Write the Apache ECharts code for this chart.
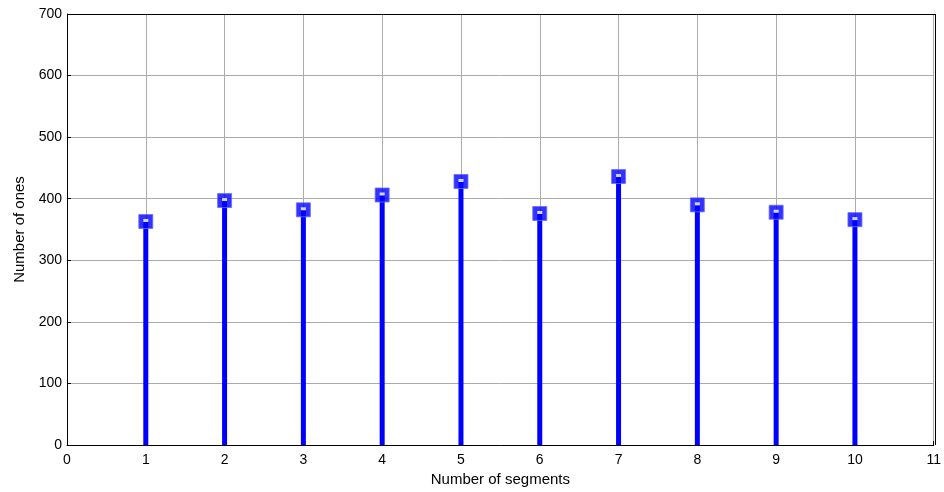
<!DOCTYPE html>
<html>
<head>
<meta charset="utf-8">
<script src="https://cdn.jsdelivr.net/npm/echarts@6/dist/echarts.min.js"></script>
<style>
html,body{margin:0;padding:0;background:#fff;}
#chart{width:944px;height:492px;}
</style>
</head>
<body>
<div id="chart"></div>
<script>
// Segment index and the count of ones found in each segment
const segments = [1, 2, 3, 4, 5, 6, 7, 8, 9, 10];
const ones = [363, 397, 382, 406, 428, 376, 436, 390, 378, 366];

const points = segments.map((s, i) => [s, ones[i]]);
const font = 'Liberation Sans, Arial, sans-serif';

const chart = echarts.init(document.getElementById('chart'));
chart.setOption({
  animation: false,
  grid: { left: 67, right: 9, top: 14, bottom: 47, show: false },
  xAxis: {
    type: 'value', min: 0, max: 11, interval: 1,
    name: 'Number of segments', nameLocation: 'middle', nameGap: 27,
    nameTextStyle: { color: '#000', fontSize: 15, fontFamily: font },
    axisLine: { show: true, onZero: false, lineStyle: { color: '#000', width: 1 } },
    axisTick: { show: true, inside: true, length: 4, lineStyle: { color: '#000' } },
    axisLabel: { color: '#000', fontSize: 14, fontFamily: font, margin: 8 },
    splitLine: { show: true, lineStyle: { color: '#ababab', width: 1 } }
  },
  yAxis: {
    type: 'value', min: 0, max: 700, interval: 100,
    name: 'Number of ones', nameLocation: 'middle', nameGap: 40,
    nameTextStyle: { color: '#000', fontSize: 15, fontFamily: font },
    axisLine: { show: true, onZero: false, lineStyle: { color: '#000', width: 1 } },
    axisTick: { show: true, inside: true, length: 4, lineStyle: { color: '#000' } },
    axisLabel: { color: '#000', fontSize: 14, fontFamily: font, margin: 5 },
    splitLine: { show: true, lineStyle: { color: '#ababab', width: 1 } }
  },
  series: [
    {
      // stems
      type: 'bar', data: points, barWidth: 5,
      itemStyle: { color: '#0000ff' }, silent: true
    },
    {
      // square heads
      type: 'scatter', data: points, symbol: 'rect', symbolSize: 14,
      itemStyle: { color: '#0000ff', borderColor: '#6b6bff', borderWidth: 1 }, z: 3
    },
    {
      type: 'scatter', data: points, symbol: 'rect', symbolSize: [5, 3],
      symbolOffset: [0, -1],
      itemStyle: { color: '#ffffff' }, z: 4, silent: true
    }
  ],
  graphic: [
    // closing box on top and right edges
    { type: 'line', shape: { x1: 67, y1: 14.5, x2: 935, y2: 14.5 }, style: { stroke: '#000', lineWidth: 1 }, z: 10 },
    { type: 'line', shape: { x1: 935.5, y1: 14, x2: 935.5, y2: 445 }, style: { stroke: '#000', lineWidth: 1 }, z: 10 }
  ]
});
</script>
</body>
</html>
